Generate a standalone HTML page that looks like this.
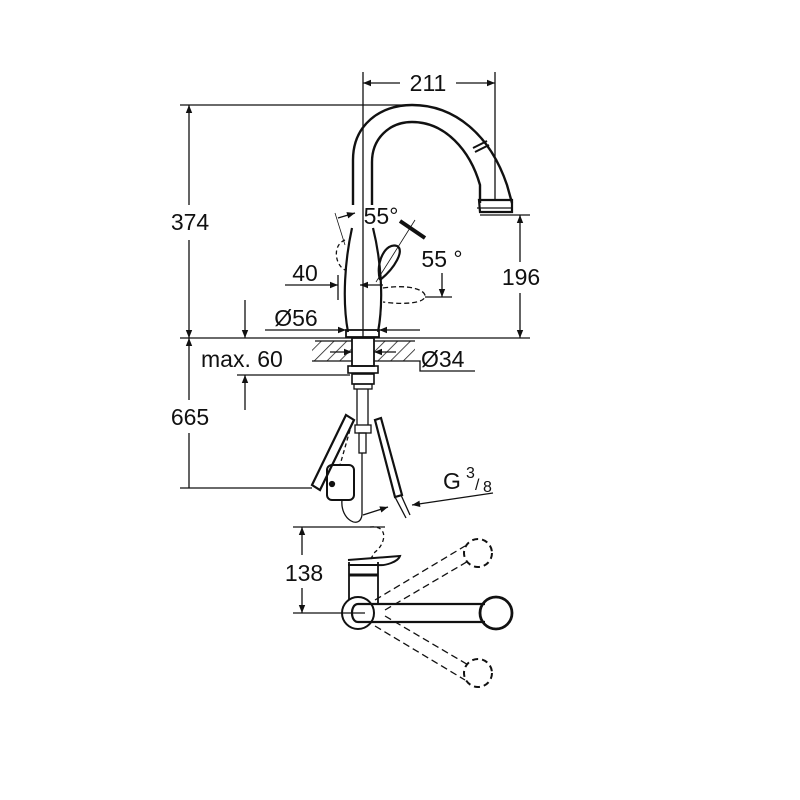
<!DOCTYPE html>
<html><head><meta charset="utf-8"><style>
html,body{margin:0;padding:0;background:#fff;}
svg{display:block;}
text{font-family:"Liberation Sans",sans-serif;fill:#111;}
</style></head><body>
<svg width="800" height="800" viewBox="0 0 800 800" xmlns="http://www.w3.org/2000/svg">
<defs>
<marker id="a" viewBox="0 0 10 10" refX="10" refY="5" markerWidth="14" markerHeight="8" orient="auto-start-reverse" markerUnits="userSpaceOnUse"><path d="M0,1 L10,5 L0,9 z" fill="#111"/></marker>
<pattern id="h" width="9" height="9" patternUnits="userSpaceOnUse" patternTransform="rotate(45)"><line x1="0" y1="0" x2="0" y2="9" stroke="#222" stroke-width="1.6"/></pattern>
</defs>
<g stroke="#111" fill="none" stroke-width="1.3">
<line x1="363" y1="72" x2="363" y2="338"/>
<line x1="495" y1="72" x2="495" y2="200"/>
<line x1="363" y1="83" x2="400" y2="83" marker-start="url(#a)"/>
<line x1="456" y1="83" x2="495" y2="83" marker-end="url(#a)"/>
<line x1="180" y1="105" x2="412" y2="105"/>
<line x1="189" y1="105" x2="189" y2="205" marker-start="url(#a)"/>
<line x1="189" y1="240" x2="189" y2="338" marker-end="url(#a)"/>
<line x1="180" y1="338" x2="530" y2="338"/>
<line x1="480" y1="215" x2="530" y2="215"/>
<line x1="520" y1="215" x2="520" y2="262" marker-start="url(#a)"/>
<line x1="520" y1="293" x2="520" y2="338" marker-end="url(#a)"/>
<line x1="189" y1="338" x2="189" y2="400" marker-start="url(#a)"/>
<line x1="189" y1="433" x2="189" y2="488"/>
<line x1="180" y1="488" x2="312" y2="488"/>
<line x1="245" y1="300" x2="245" y2="338" marker-end="url(#a)"/>
<line x1="237" y1="375" x2="350" y2="375"/>
<line x1="245" y1="410" x2="245" y2="375" marker-end="url(#a)"/>
<path d="M353,205 L353,160 C353,125 380,105 412,105 C455,105 490,135 507,185 L512,203" stroke-width="2.4"/>
<path d="M372,205 L372,162 C372,138 390,122 412,122 C445,122 470,150 480,185 L480,203" stroke-width="2.4"/>
<path d="M479,200 L512,200 L512,212 L480,212 z" stroke-width="2.2"/>
<line x1="477" y1="208" x2="512" y2="208"/>
<path d="M473,148 L487,141" stroke-width="2"/>
<path d="M475,152 L489,145" stroke-width="2"/>
<path d="M352,228 C345,260 342,300 348,332" stroke-width="2.2"/>
<path d="M373,228 C381,260 384,300 378,332" stroke-width="2.2"/>
<rect x="346" y="330" width="33" height="7" stroke-width="1.8"/>
<path d="M380,280 C375,262 386,242 397,246 C405,250 395,268 380,280" stroke-width="2.2"/>
<line x1="376" y1="282" x2="415" y2="220" stroke-width="0.8"/>
<path d="M345,240 C332,245 335,265 345,270" stroke-dasharray="4,3"/>
<line x1="335" y1="213" x2="345" y2="245" stroke-width="0.8"/>
<path d="M383,288 C410,284 425,290 425,296 C425,303 405,305 383,302" stroke-dasharray="5,3"/>
<line x1="425" y1="297" x2="452" y2="297"/>
<line x1="442" y1="273" x2="442" y2="297" marker-end="url(#a)"/>
<line x1="338" y1="218" x2="355" y2="213" marker-end="url(#a)"/>
<line x1="400" y1="221" x2="425" y2="238" stroke-width="4"/>
<line x1="285" y1="285" x2="338" y2="285" marker-end="url(#a)"/>
<line x1="338" y1="275" x2="338" y2="300"/>
<line x1="360" y1="285" x2="383" y2="285" marker-start="url(#a)"/>
<line x1="265" y1="330" x2="346" y2="330" marker-end="url(#a)"/>
<line x1="379" y1="330" x2="420" y2="330" marker-start="url(#a)"/>
<rect x="312" y="341" width="103" height="20" fill="url(#h)" stroke="none"/>
<line x1="315" y1="341" x2="415" y2="341"/>
<line x1="312" y1="361" x2="415" y2="361"/>
<rect x="352" y="338" width="22" height="28" fill="#fff" stroke-width="1.8"/>
<line x1="330" y1="352" x2="352" y2="352" marker-end="url(#a)"/>
<line x1="374" y1="352" x2="396" y2="352" marker-start="url(#a)"/>
<polyline points="415,361 420,361 420,371 475,371"/>
<rect x="348" y="366" width="30" height="7" stroke-width="1.6"/>
<rect x="352" y="374" width="22" height="10" stroke-width="1.6"/>
<rect x="354" y="384" width="18" height="5"/>
<line x1="357" y1="389" x2="357" y2="425"/><line x1="368" y1="389" x2="368" y2="425"/>
<rect x="355" y="425" width="16" height="8"/>
<rect x="359" y="433" width="7" height="20"/>
<path d="M346,415 L354,420 L320,490 L312,485 z" stroke-width="2.2"/>
<path d="M375,420 L381,418 L402,495 L395,497 z" stroke-width="2.2"/>
<line x1="395" y1="497" x2="406" y2="518"/><line x1="401" y1="495" x2="410" y2="515"/>
<line x1="350" y1="430" x2="340" y2="465" stroke-dasharray="4,3"/>
<rect x="327" y="465" width="27" height="35" rx="5" stroke-width="2"/>
<circle cx="332" cy="484" r="2.5" fill="#111"/>
<path d="M342,500 C340,520 360,530 362,515 L362,453"/>
<line x1="363" y1="515" x2="388" y2="507" marker-end="url(#a)"/>
<line x1="412" y1="505" x2="493" y2="493" marker-start="url(#a)"/>
<line x1="293" y1="527" x2="385" y2="527"/>
<line x1="293" y1="613" x2="365" y2="613"/>
<line x1="302" y1="527" x2="302" y2="555" marker-start="url(#a)"/>
<line x1="302" y1="588" x2="302" y2="613" marker-end="url(#a)"/>
<path d="M370,527 C390,525 385,545 375,552 L370,560" stroke-dasharray="4,3"/>
<path d="M349,562 L349,600 M378,562 L378,604" stroke-width="1.8"/>
<path d="M348,560 L400,556 C398,562 385,566 378,565 L348,565" stroke-width="2"/>
<line x1="349" y1="575" x2="378" y2="575" stroke-width="3"/>
<circle cx="358" cy="613" r="16" stroke-width="2"/>
<path d="M358,604 L485,604 M358,622 L485,622 M358,604 C350,604 350,622 358,622" stroke-width="2.2"/>
<circle cx="496" cy="613" r="16" stroke-width="2.8"/>
<path d="M375,600 L465,546 M385,610 L470,560" stroke-dasharray="7,4"/>
<path d="M375,626 L465,680 M385,616 L470,666" stroke-dasharray="7,4"/>
<circle cx="478" cy="553" r="14" stroke-dasharray="6,4" stroke-width="2"/>
<circle cx="478" cy="673" r="14" stroke-dasharray="6,4" stroke-width="2"/>
</g>
<g font-size="23">
<rect x="400" y="71" width="56" height="24" fill="#fff"/>
<text x="428" y="91" text-anchor="middle">211</text>
<rect x="164" y="209" width="52" height="26" fill="#fff"/>
<text x="190" y="230" text-anchor="middle">374</text>
<rect x="495" y="264" width="52" height="26" fill="#fff"/>
<text x="521" y="285" text-anchor="middle">196</text>
<rect x="164" y="404" width="52" height="26" fill="#fff"/>
<text x="190" y="425" text-anchor="middle">665</text>
<text x="304" y="581" text-anchor="middle">138</text>
<text x="381" y="224" text-anchor="middle">55°</text>
<text x="442" y="267" text-anchor="middle">55 °</text>
<text x="305" y="281" text-anchor="middle">40</text>
<text x="296" y="326" text-anchor="middle">Ø56</text>
<text x="201" y="367">max. 60</text>
<text x="421" y="367">Ø34</text>
<text x="443" y="489">G</text>
<text x="466" y="478" font-size="16">3</text>
<text x="475" y="490" font-size="16">/</text>
<text x="483" y="492" font-size="16">8</text>
</g>
</svg>
</body></html>
